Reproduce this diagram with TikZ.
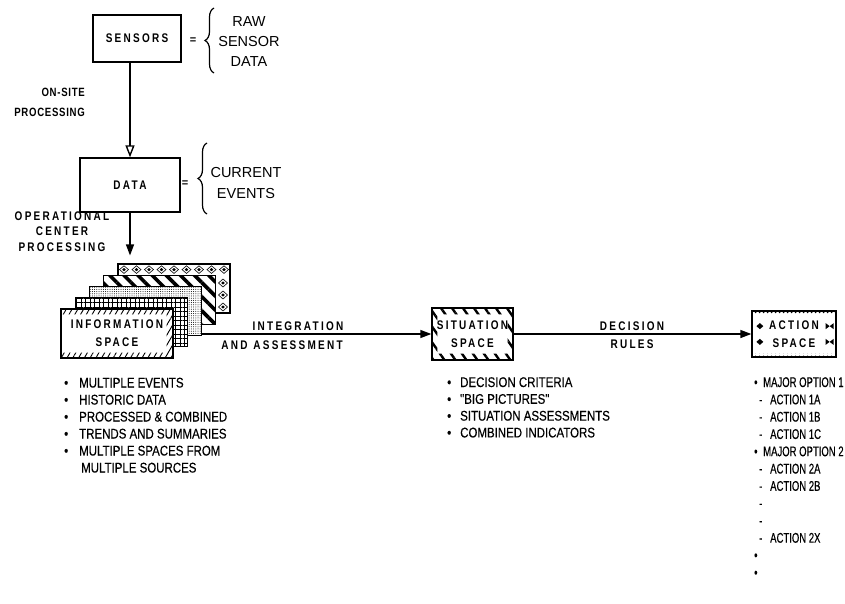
\documentclass[tikz,border=0pt]{standalone}
\usepackage{fontspec}
\setmainfont{Liberation Sans}
\newfontfamily\labelfont[LetterSpace=18,FakeStretch=0.8]{Liberation Sans Bold}
\newfontfamily\tightlabelfont[LetterSpace=6,FakeStretch=0.8]{Liberation Sans Bold}
\newfontfamily\narrowfont[FakeStretch=0.82,FakeBold=0.4]{Liberation Sans}
\newfontfamily\condfont[FakeStretch=0.68,FakeBold=0.4]{Liberation Sans}
\usetikzlibrary{arrows.meta,patterns.meta,decorations.pathreplacing,calc}

\begin{document}
\begin{tikzpicture}[x=1pt,y=-1pt,
  every node/.style={inner sep=0pt},
  boxlabel/.style={font=\labelfont\fontsize{12.5}{18}\selectfont, align=center},
  plainbox/.style={draw, line width=1.3pt, fill=white, boxlabel},
  layer/.style={draw, line width=1.1pt, minimum width=112pt, minimum height=49pt},
  steplabel/.style={font=\labelfont\fontsize{12.5}{15.5}\selectfont, align=center},
  remark/.style={font=\fontsize{14.5}{20}\selectfont, align=center},
  item/.style={font=\narrowfont\fontsize{14}{17}\selectfont, anchor=base west},
  actitem/.style={font=\condfont\fontsize{14}{17}\selectfont, anchor=base west},
  flow/.style={line width=1.3pt, -{Triangle[length=11pt,width=8pt]}},
  openflow/.style={line width=1.1pt, -{Triangle[open,length=12pt,width=9pt,line width=1.4pt]}},
  curly/.style={decorate, decoration={brace, amplitude=9pt}, line width=1.2pt},
  eqsign/.style={font=\bfseries\fontsize{11}{11}\selectfont},
]
\useasboundingbox (0,0) rectangle (845,604);

% --- sensors and data -------------------------------------------------
\node[plainbox, minimum width=88pt, minimum height=47pt] (sensors) at (137,38.5) {SENSORS};
\node[plainbox, minimum width=100pt, minimum height=54pt] (data) at (130,185) {DATA};
\draw[openflow] (sensors.south -| data.north) -- (data.north);

\node[eqsign] (eqa) at (193,41) {=};
\draw[curly] (214,73) -- (214,8);
\node[remark] (rawdata) at (249,42) {RAW\\SENSOR\\DATA};

\node[eqsign] (eqb) at (185,184) {=};
\draw[curly] (207,214) -- (207,143);
\node[remark, font=\fontsize{14.5}{21}\selectfont] (events) at (246,183) {CURRENT\\EVENTS};

\node[font=\tightlabelfont\fontsize{12}{20}\selectfont, align=right, anchor=east] (onsite) at (85,102) {ON-SITE\\PROCESSING};
\node[steplabel] (opcenter) at (62,231.5) {OPERATIONAL\\CENTER\\PROCESSING};

% --- stack of information spaces (back to front) ---------------------
\node[layer, fill=white] (lay5) at (174,288.5) {};
\foreach \x in {124,136.5,149,161.5,174,186.5,199,211.5,224}{
  \draw[line width=0.6pt] (\x-4.5,269.6) -- (\x,265.8) -- (\x+4.5,269.6) -- (\x,273.4) -- cycle;
  \fill (\x-1.8,269.6) -- (\x,268) -- (\x+1.8,269.6) -- (\x,271.2) -- cycle;
}
\foreach \y in {283,295,307}{
  \draw[line width=0.6pt] (218.5,\y) -- (223,\y-4) -- (227.5,\y) -- (223,\y+4) -- cycle;
  \fill (221.2,\y) -- (223,\y-1.6) -- (224.8,\y) -- (223,\y+1.6) -- cycle;
}
\draw[line width=1.1pt] (lay5.north west) rectangle (lay5.south east);
\node[layer, preaction={fill=white}, pattern={Lines[angle=-45,distance=10pt,line width=3.6pt]}] (lay4) at (159.75,299.75) {};
\node[layer, preaction={fill=white}, pattern={Dots[distance=2.2pt,radius=0.5pt]}] (lay3) at (145.5,311) {};
\node[layer, preaction={fill=white}, pattern={Hatch[distance=4.5pt,line width=0.7pt]}] (lay2) at (131.25,322.25) {};
\node[layer, fill=white] (info) at (117,333.5) {};
\fill[pattern={Lines[angle=60,distance=5pt,line width=0.9pt]}, even odd rule]
  (info.north west) rectangle (info.south east)
  ([yshift=-6pt]info.north west) rectangle ([xshift=-7pt,yshift=6pt]info.south east);
\draw[line width=1.1pt] (info.north west) rectangle (info.south east);
\node[boxlabel] (infolabel) at (info.center) {INFORMATION\\SPACE};

\coordinate (stacktop) at ([yshift=8pt]lay5.north);
\draw[flow] (data.south) -- (data.south |- stacktop);

% --- situation space ---------------------------------------------------
\node[plainbox, minimum width=81pt, minimum height=52pt] (situation) at (472.5,334) {};
\fill[pattern={Lines[angle=-55,distance=9pt,line width=2.4pt]}, even odd rule]
  (situation.north west) rectangle (situation.south east)
  ([xshift=6pt,yshift=-7pt]situation.north west) rectangle ([xshift=-6pt,yshift=7pt]situation.south east);
\draw[line width=1.3pt] (situation.north west) rectangle (situation.south east);
\node[boxlabel] (sitlabel) at (situation.center) {SITUATION\\SPACE};

\draw[flow] (lay3.east |- situation.west) -- (situation.west);
\node[steplabel] (integ) at (298,326) {INTEGRATION};
\node[steplabel] (assess) at (282,345) {AND\hspace{6pt}ASSESSMENT};

% --- action space ------------------------------------------------------
\node[plainbox, minimum width=84pt, minimum height=45pt] (action) at (794,334) {};
\fill[pattern={Dots[distance=4pt,radius=1.1pt]}, even odd rule]
  (action.north west) rectangle (action.south east)
  ([yshift=-4pt]action.north west) rectangle ([yshift=4pt]action.south east);
\foreach \f in {0.33,0.67}{
  \fill ($(action.north west)!\f!(action.south west)+(5,0)$)
     -- ++(3.5,-3) -- ++(3.5,3) -- ++(-3.5,3) -- cycle;
  \fill ($(action.north east)!\f!(action.south east)+(-11,-3)$)
     -- ++(4,3) -- ++(-4,3) -- cycle;
  \fill ($(action.north east)!\f!(action.south east)+(-3,-3)$)
     -- ++(-4,3) -- ++(4,3) -- cycle;
}
\draw[line width=1.3pt] (action.north west) rectangle (action.south east);
\node[boxlabel] (actlabel) at (action.center) {ACTION\\SPACE};

\draw[flow] (situation.east) -- (action.west);
\node[steplabel, font=\labelfont\fontsize{12.5}{18}\selectfont] (rules) at (632,335) {DECISION\\RULES};

% --- lists ------------------------------------------------------------
\foreach \txt [count=\i from 0] in {MULTIPLE EVENTS, HISTORIC DATA, PROCESSED \& COMBINED, TRENDS AND SUMMARIES, MULTIPLE SPACES FROM}
  \node[item] (infoitem\i) at (64,387.5+17*\i) {\makebox[15pt][l]{•}\txt};
\node[item] (infoitem5) at (64,472.5) {\hspace*{17pt}MULTIPLE SOURCES};

\foreach \txt [count=\i from 0] in {DECISION CRITERIA, "BIG PICTURES", SITUATION ASSESSMENTS, COMBINED INDICATORS}
  \node[item] (sititem\i) at (447,387+16.8*\i) {\makebox[13pt][l]{•}\txt};

\foreach \txt [count=\i from 0] in {%
    \makebox[9pt][l]{•}MAJOR OPTION 1,
    \hspace*{5pt}\makebox[11pt][l]{-}ACTION 1A,
    \hspace*{5pt}\makebox[11pt][l]{-}ACTION 1B,
    \hspace*{5pt}\makebox[11pt][l]{-}ACTION 1C,
    \makebox[9pt][l]{•}MAJOR OPTION 2,
    \hspace*{5pt}\makebox[11pt][l]{-}ACTION 2A,
    \hspace*{5pt}\makebox[11pt][l]{-}ACTION 2B,
    \hspace*{5pt}-,
    \hspace*{5pt}-,
    \hspace*{5pt}\makebox[11pt][l]{-}ACTION 2X,
    •,
    •}
  \node[actitem] (actitem\i) at (754,387+17.3*\i) {\txt};
\end{tikzpicture}
\end{document}
